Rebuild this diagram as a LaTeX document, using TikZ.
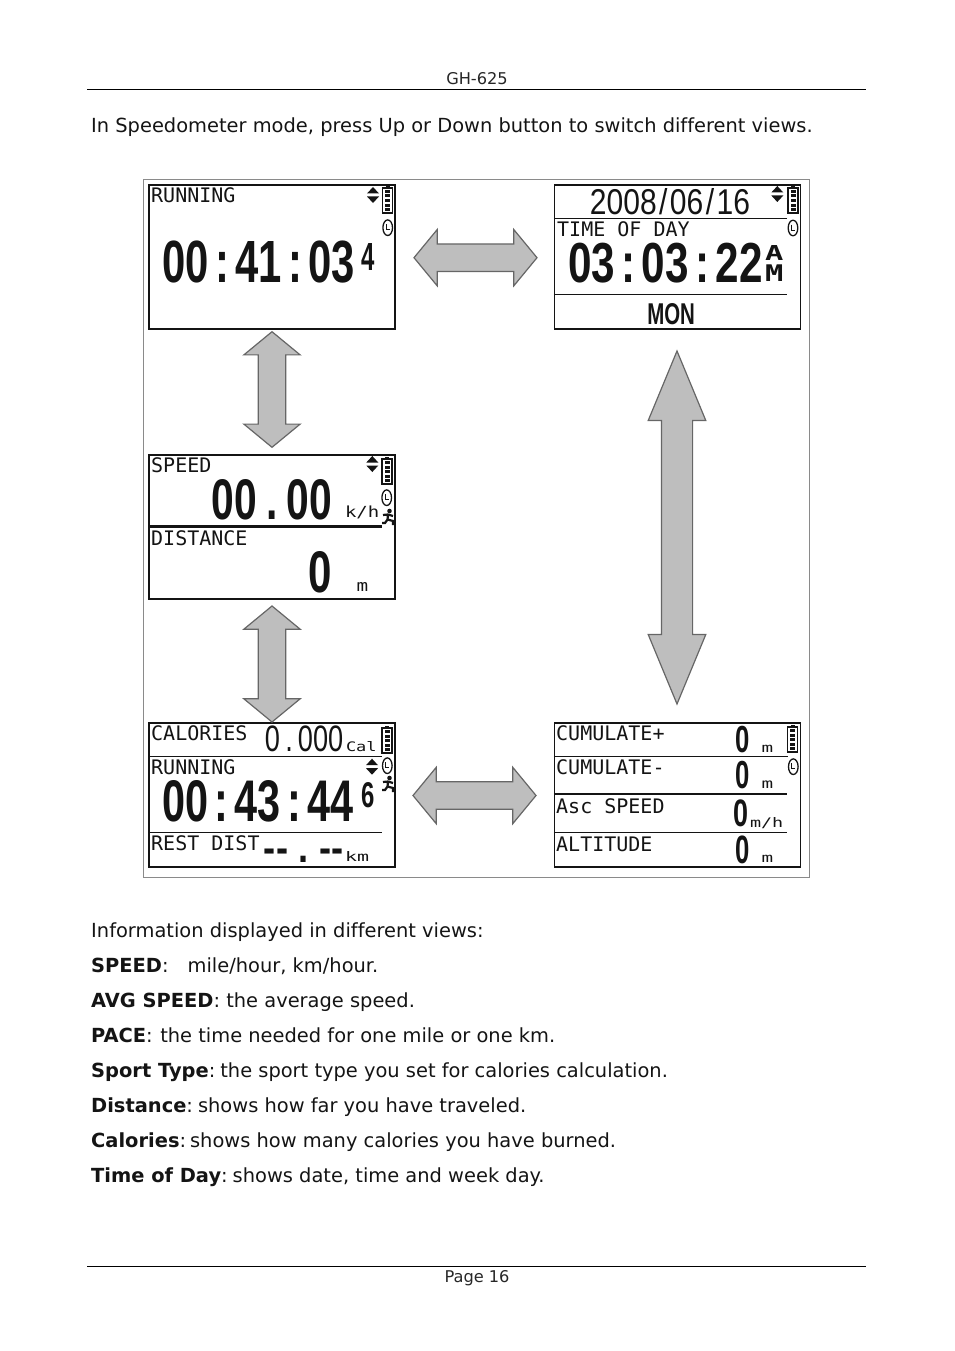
\documentclass[tikz,border=0pt]{standalone}
\usepackage{fontspec}
\usepackage{graphicx}
\usetikzlibrary{shapes.arrows}
\setmainfont{DejaVu Sans}[Ligatures=NoCommon]
\newfontfamily\lcdfont{DejaVu Sans Mono}
\newfontfamily\numfont{Liberation Sans}[BoldFont={Liberation Sans Bold}]
\definecolor{inkc}{HTML}{141414}
\definecolor{arrowfill}{HTML}{BEBEBE}
\definecolor{arrowline}{HTML}{666666}
\definecolor{framec}{HTML}{8A8A8A}
\tikzset{
  pagetext/.style={anchor=base west,inner sep=0pt,font=\fontsize{19.43}{24}\selectfont,text=black!92},
  smalltext/.style={anchor=base,inner sep=0pt,font=\fontsize{16.2}{20}\selectfont,text=black!85},
  lcdbox/.style={draw=inkc,line width=1.6pt,fill=white,minimum width=245.8pt,minimum height=144pt,inner sep=0pt},
  lcdlabel/.style={anchor=base west,inner sep=0pt,font=\lcdfont\fontsize{20}{24}\selectfont,text=inkc},
  fitted/.style={anchor=center,inner sep=0pt,outer sep=0pt,text=inkc},
  lcdrule/.style={draw=inkc,line width=1.5pt},
  blockarrow/.style={double arrow,draw=arrowline,line width=1.2pt,fill=arrowfill,inner xsep=0pt,inner ysep=13.2pt,
    double arrow tip angle=101,double arrow head extend=14.3pt,minimum width=56pt},
}
\newcommand\lcdfit[6]{%
  \pgfmathsetmacro\myboxw{#4-#2}\pgfmathsetmacro\myboxh{#5-#3}%
  \node[fitted] (#1) at ({(#2+#4)/2},{(#3+#5)/2}) {\resizebox{\myboxw pt}{\myboxh pt}{#6}};}
\newcommand\bignum[1]{{\numfont\bfseries #1}}
\newcommand\thinnum[1]{{\numfont #1}}
\newcommand\monotxt[1]{{\lcdfont #1}}
\newcommand\monobold[1]{{\lcdfont\bfseries #1}}
\newcommand\cn{\kern.15em:\kern.15em}
\newcommand\pd[1]{\kern#1em.\kern#1em}
\newcommand\slashk{\kern.08em/\kern.08em}
\newcommand\battery[2]{%
  \begin{scope}[shift={(#1,#2)}]
    \draw[inkc,line width=1.2pt] (0,2) rectangle (10,27);
    \fill[inkc] (3,0) rectangle (7,2);
    \foreach \s in {4,8.5,13,17.5,22}{\fill[inkc] (2.5,\s) rectangle (7.5,\s+3);}
  \end{scope}}
\newcommand\clockicon[2]{%
  \draw[inkc,line width=1.3pt,fill=white] (#1,#2) ellipse (4.8pt and 7.8pt);
  \draw[inkc,line width=1pt] (#1-1.5,#2-3.5) -- (#1-1.5,#2+2) -- (#1+2,#2+2);}
\newcommand\updown[2]{%
  \fill[inkc] (#1-6,#2-1.5) -- (#1,#2-8) -- (#1+6,#2-1.5) -- cycle;
  \fill[inkc] (#1-6,#2+1.5) -- (#1,#2+8) -- (#1+6,#2+1.5) -- cycle;}
\newcommand\runner[2]{%
  \begin{scope}[shift={(#1,#2)}]
    \fill[inkc] (1.5,-7) circle (2.3pt);
    \draw[inkc,line width=2.2pt] (-5,-3) -- (0,-3.5) -- (5,-2) (0,-3.5) -- (-0.5,1.5) -- (5,3) -- (5,7) (-0.5,1.5) -- (-3,5) -- (-6,5);
  \end{scope}}
\begin{document}
\begin{tikzpicture}[x=1pt,y=-1pt]
\useasboundingbox (0,0) rectangle (954,1351);
% page furniture
\coordinate (hl) at (87,89.5); \coordinate (hr) at (866,89.5);
\coordinate (fl) at (87,1266.5); \coordinate (fr) at (866,1266.5);
\draw[line width=1pt] (hl) -- (hr);
\draw[line width=1pt] (fl) -- (fr);
\node[smalltext] (header) at (477,84.5) {GH-625};
\node[smalltext] (footer) at (477,1282) {Page 16};
\node[pagetext] (intro) at (91,132.5) {In Speedometer mode, press Up or Down button to switch different views.};
% figure frame
\node[draw=framec,line width=1pt,minimum width=665.5pt,minimum height=697.5pt,inner sep=0pt] (figframe) at (476.25,528.25) {};
% screens
\node[lcdbox] (lcdA) at (272.1,257) {};
\node[lcdbox] (lcdB) at (677.5,257) {};
\node[lcdbox] (lcdC) at (272.1,527) {};
\node[lcdbox] (lcdD) at (272.1,795) {};
\node[lcdbox] (lcdE) at (677.5,795) {};
% arrows
\node[blockarrow,minimum height=115.6pt,rotate=90] (arrAC) at (272,389.5) {};
\node[blockarrow,minimum height=116pt,rotate=90] (arrCD) at (272,664) {};
\node[blockarrow,minimum height=123pt] (arrAB) at (475.5,257.7) {};
\node[blockarrow,minimum height=123pt] (arrDE) at (474.5,795.5) {};
\node[blockarrow,minimum height=353pt,rotate=90,inner ysep=15pt,double arrow head extend=13.2pt,double arrow tip angle=45] (arrBE) at (677,527.5) {};
% screen A
\node[lcdlabel] (tA) at (151,202) {RUNNING};
\updown{373}{195}\battery{382.5}{186}\clockicon{387.7}{227.7}
\lcdfit{numA}{162.7}{241.7}{355}{283.3}{\bignum{00\cn 41\cn 03}}
\lcdfit{numAs}{361.7}{243}{375}{270}{\bignum{4}}
% screen B
\lcdfit{dateB}{590}{189}{750}{215}{\thinnum{2008\slashk 06\slashk 16}}
\draw[lcdrule] (lcdB.west |- 0,218.3) -- (786.7,218.3);
\updown{777.3}{194}\battery{788}{186}\clockicon{793}{228}
\node[lcdlabel] (tB) at (557,236) {TIME OF DAY};
\lcdfit{numB}{568.3}{243.3}{762.7}{282.7}{\bignum{03\cn 03\cn 22}}
\lcdfit{amA}{765}{245}{783.3}{260}{\monobold{A}}
\lcdfit{amM}{765}{265}{783.3}{281.7}{\monobold{M}}
\draw[lcdrule] (lcdB.west |- 0,294.3) -- (787,294.3);
\lcdfit{dayB}{647.3}{303.3}{695}{324.3}{\bignum{MON}}
% screen C
\node[lcdlabel] (tC1) at (151,472.5) {SPEED};
\updown{372.3}{464}\battery{382}{457}\clockicon{386.7}{497.7}\runner{388}{518}
\lcdfit{numC}{211.7}{479.3}{331.7}{519.3}{\bignum{00\pd{.22}00}}
\lcdfit{unitC}{345}{506.7}{379.3}{518.3}{\monotxt{k/h}}
\draw[inkc,line width=2.5pt] (lcdC.west |- 0,526.7) -- (381.7,526.7);
\node[lcdlabel] (tC2) at (151,545) {DISTANCE};
\lcdfit{numC2}{308.3}{551.7}{331.7}{592.7}{\bignum{0}}
\lcdfit{unitC2}{356.7}{582.7}{368.3}{591.7}{\monotxt{m}}
% screen D
\node[lcdlabel] (tD1) at (151,740) {CALORIES};
\lcdfit{numD1}{265}{726}{343.3}{751.7}{\thinnum{0\pd{.19}000}}
\lcdfit{unitD1}{346}{741.7}{376.7}{751.7}{\monotxt{Cal}}
\battery{382}{726}
\draw[lcdrule] (lcdD.west |- 0,756.7) -- (381.7,756.7);
\node[lcdlabel] (tD2) at (151,774) {RUNNING};
\updown{372}{766.7}\clockicon{387.3}{765.7}\runner{388}{785}
\lcdfit{numD2}{162.7}{780.7}{353.3}{821.7}{\bignum{00\cn 43\cn 44}}
\lcdfit{numD2s}{361.7}{783}{375}{808}{\bignum{6}}
\draw[lcdrule] (lcdD.west |- 0,832.7) -- (381.7,832.7);
\node[lcdlabel] (tD3) at (151,850) {REST DIST};
\lcdfit{numD3}{264}{848.5}{344}{862}{\bignum{{-}{-}\pd{.3}{-}{-}}}
\lcdfit{unitD3}{345}{851.7}{369}{861.7}{\monotxt{km}}
% screen E
\node[lcdlabel] (tE1) at (556,740) {CUMULATE+};
\lcdfit{numE1}{735}{726}{749.3}{752.3}{\bignum{0}}
\lcdfit{unitE1}{761.7}{745}{773.3}{752.3}{\monotxt{m}}
\battery{787.5}{725}
\draw[lcdrule] (lcdE.west |- 0,756.3) -- (788,756.3);
\node[lcdlabel] (tE2) at (556,774) {CUMULATE-};
\clockicon{793.3}{766.7}
\lcdfit{numE2}{735}{761.7}{749.3}{789}{\bignum{0}}
\lcdfit{unitE2}{761.7}{780.7}{773.3}{788.3}{\monotxt{m}}
\draw[inkc,line width=2.2pt] (lcdE.west |- 0,794.3) -- (786.7,794.3);
\node[lcdlabel] (tE3) at (556,813) {Asc SPEED};
\lcdfit{numE3}{733.3}{800}{748.3}{826.7}{\bignum{0}}
\lcdfit{unitE3}{750}{817.7}{783.3}{827.7}{\monotxt{m/h}}
\draw[lcdrule] (lcdE.west |- 0,832.7) -- (786.7,832.7);
\node[lcdlabel] (tE4) at (556,851) {ALTITUDE};
\lcdfit{numE4}{735}{835.7}{749.3}{863.3}{\bignum{0}}
\lcdfit{unitE4}{761.7}{855}{773.3}{862.3}{\monotxt{m}}
% body text
\node[pagetext] (l0) at (91,937) {Information displayed in different views:};
\node[pagetext] (l1) at (91,972) {\textbf{SPEED}:\hspace{19pt}mile/hour, km/hour.};
\node[pagetext] (l2) at (91,1007) {\textbf{AVG SPEED}: the average speed.};
\node[pagetext] (l3) at (91,1042) {\textbf{PACE}:\hspace{7.5pt}the time needed for one mile or one km.};
\node[pagetext] (l4) at (91,1077) {\textbf{Sport Type}:\hspace{5pt}the sport type you set for calories calculation.};
\node[pagetext] (l5) at (91,1112) {\textbf{Distance}:\hspace{5pt}shows how far you have traveled.};
\node[pagetext] (l6) at (91,1147) {\textbf{Calories}:\hspace{4pt}shows how many calories you have burned.};
\node[pagetext] (l7) at (91,1182) {\textbf{Time of Day}:\hspace{5pt}shows date, time and week day.};
\end{tikzpicture}
\end{document}
